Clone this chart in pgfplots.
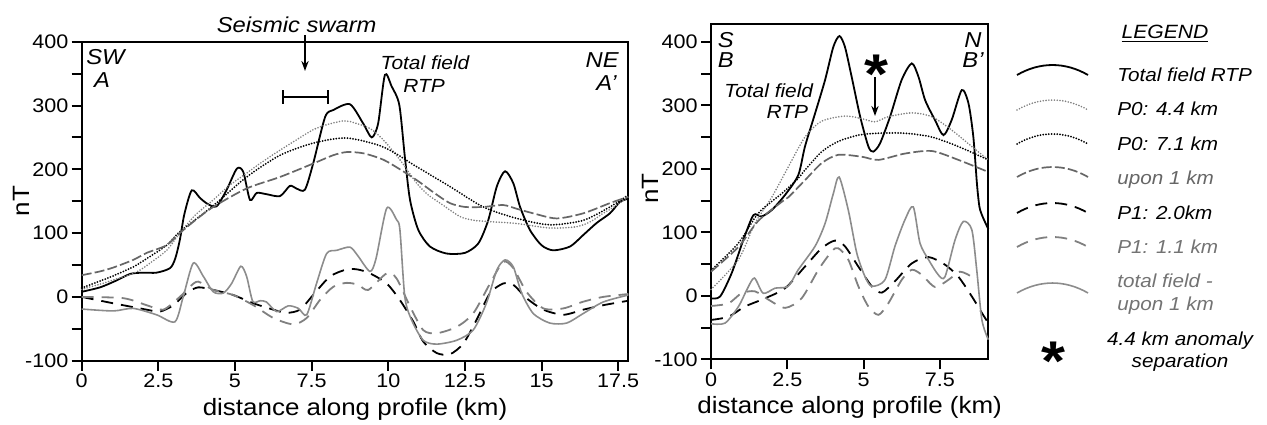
\documentclass[border=0pt]{standalone}
\usepackage{fontspec}
\setmainfont{Liberation Sans}[FakeStretch=1.1]
\usepackage{pgfplots}
\pgfplotsset{compat=1.18}
\usetikzlibrary{arrows.meta}

\tikzset{
  rtp/.style={black, line width=0.9pt},
  pA/.style={black!50, line width=0.9pt, line cap=round, dash pattern=on 0pt off 1.4pt},
  pB/.style={black, line width=1pt, line cap=round, dash pattern=on 0pt off 1.4pt},
  up/.style={black!60, line width=0.85pt, dash pattern=on 5pt off 1.6pt},
  pC/.style={black, line width=0.9pt, dash pattern=on 6pt off 4pt},
  pD/.style={black!50, line width=0.9pt, dash pattern=on 6pt off 4pt},
  res/.style={black!45, line width=0.8pt},
}
\pgfplotsset{
  myaxis/.style={
    scale only axis, clip=false,
    axis line style={line width=1pt},
    tick style={line width=1pt, black},
    tick align=outside, tick pos=left,
    major tick length=5pt, minor tick length=5pt,
    ytick={-100,0,100,200,300,400},
    minor ytick={-50,50,150,250,350},
    ymin=-100,
    /pgf/number format/assume math mode=true,
    tick label style={font=\fontsize{9.8}{11}\selectfont, inner sep=1.5pt},
    label style={font=\fontsize{11.8}{13}\selectfont},
    xlabel={distance along profile (km)},
    ylabel={nT},
    every axis plot/.append style={smooth, tension=0.45},
  }
}
\newcommand\samp[2]{\draw[#1] (1017,#2) .. controls (1040,#2-13.3) and (1065,#2-13.3) .. (1088,#2);}

\begin{document}
\begin{tikzpicture}
\useasboundingbox (0,0) rectangle (633.5pt,212pt);

% ---------------- Left panel: A - A'
\begin{axis}[myaxis, at={(40.85pt,31.65pt)}, anchor=south west,
  width=273.3pt, height=159.5pt,
  xmin=0, xmax=17.83, ymax=400,
  xtick={0,2.5,5,7.5,10,12.5,15,17.5},
  ylabel style={at={(axis description cs:-0.111,0.5)}, anchor=center}]
% Total field RTP
\addplot[rtp] coordinates {(0,8) (0.6,15) (1.1,25) (1.58,36) (2.0,38) (2.44,38) (2.88,45) (3.05,60) (3.2,89) (3.35,130) (3.59,167) (3.86,155) (4.1,146) (4.4,142) (4.73,168) (5.06,201) (5.27,196) (5.49,152) (5.71,163) (6.03,161) (6.47,158) (6.79,174) (7.0,170) (7.28,168) (7.55,209) (7.94,282) (8.21,293) (8.75,302) (9.18,272) (9.46,250) (9.67,272) (9.89,348) (10.11,330) (10.36,301) (10.54,220) (10.71,152) (10.98,105) (11.36,79) (11.9,68) (12.5,69) (12.94,84) (13.26,120) (13.54,173) (13.81,197) (14.08,178) (14.3,141) (14.62,105) (15.0,81) (15.38,73) (15.93,79) (16.36,97) (16.8,116) (17.23,131) (17.56,149) (17.83,154)};
% P0: 4.4 km
\addplot[pA] coordinates {(0,12) (0.6,20) (1.0,26) (1.58,35) (1.9,42) (2.23,53) (2.77,73) (3.2,100) (3.7,128) (4.29,152) (4.8,174) (5.38,194) (5.9,212) (6.47,230) (7.0,246) (7.55,262) (8.0,270) (8.53,276) (8.75,275) (9.4,264) (9.84,246) (10.38,215) (10.93,178) (11.3,160) (11.69,147) (12.34,126) (12.8,120) (13.32,118) (14.19,115) (15.27,108) (16.14,110) (16.6,118) (17.01,131) (17.4,142) (17.83,157)};
% P0: 7.1 km
\addplot[pB] coordinates {(0,14) (0.6,25) (1.03,33) (1.68,47) (2.12,60) (2.77,81) (3.2,102) (4.29,143) (5.38,188) (6.47,222) (7.55,241) (8.64,249) (9.84,235) (10.93,204) (12.01,173) (13.1,141) (14.19,123) (15.27,113) (16.36,120) (17.23,141) (17.83,160)};
% upon 1 km
\addplot[up] coordinates {(0,34) (0.6,40) (1.03,46) (1.68,58) (2.12,69) (2.77,81) (3.2,100) (3.7,120) (4.29,141) (5.38,170) (6.47,188) (7.55,209) (8.2,222) (8.64,227) (9.2,225) (9.84,215) (10.38,200) (10.93,183) (11.5,163) (12.01,147) (12.5,141) (13.1,141) (13.75,144) (14.2,138) (14.73,131) (15.49,123) (16.36,131) (17.23,147) (17.83,157)};
% P1: 2.0 km
\addplot[pC] coordinates {(0,0) (1.03,-10) (2.12,-20) (2.55,-23) (2.99,-13) (3.42,6) (3.8,15) (4.29,11) (4.94,3) (5.6,-10) (6.25,-20) (6.68,-25) (7.12,-20) (7.55,3) (8.1,32) (8.64,43) (9.0,43) (9.4,37) (9.95,21) (10.38,-5) (10.82,-39) (11.14,-70) (11.58,-88) (12.01,-90) (12.45,-73) (12.88,-36) (13.32,6) (13.75,21) (14.08,19) (14.51,-2) (15.06,-20) (15.71,-28) (16.36,-20) (17.01,-13) (17.83,-6)};
% P1: 1.1 km
\addplot[pD] coordinates {(0,0) (1.36,-2) (2.12,-13) (2.66,-20) (3.2,0) (3.53,16) (3.8,24) (4.29,11) (4.94,3) (5.6,-13) (6.25,-33) (6.9,-43) (7.34,-33) (7.77,-5) (8.21,16) (8.64,22) (9.02,19) (9.35,11) (9.95,37) (10.27,29) (10.71,-15) (11.14,-52) (11.58,-57) (12.23,-47) (12.77,-26) (13.32,21) (13.75,55) (14.08,45) (14.51,8) (15.06,-18) (15.71,-18) (16.36,-7.5) (17.01,0) (17.83,4.5)};
% total field - upon 1 km
\addplot[res] coordinates {(0,-19) (1.03,-22) (1.68,-18) (2.44,-28) (3.04,-39) (3.31,0) (3.64,53) (3.97,32) (4.29,8) (4.62,6) (4.89,21) (5.19,48) (5.38,32) (5.58,-7) (5.82,-6) (6.03,-8) (6.36,-23) (6.74,-14) (7.07,-18) (7.34,-28) (7.66,21) (7.99,68) (8.32,73) (8.75,78) (9.0,65) (9.4,40) (9.6,60) (9.95,139) (10.27,121) (10.38,105) (10.54,0) (10.76,-36) (11.14,-68) (11.58,-74) (12.23,-68) (12.77,-52) (13.2,-10) (13.54,42) (13.81,58) (14.08,47) (14.35,6) (14.73,-26) (15.27,-41) (15.82,-41) (16.36,-26) (17.01,-8) (17.83,3)};
\end{axis}

% ---------------- Right panel: B - B'
\begin{axis}[myaxis, at={(355.5pt,32.35pt)}, anchor=south west,
  width=138.65pt, height=167.65pt,
  xmin=0, xmax=9.09, ymax=428,
  xtick={0,2.5,5,7.5},
  ylabel style={at={(axis description cs:-0.22,0.51)}, anchor=center}]
\addplot[rtp] coordinates {(0,-4) (0.3,-1) (0.68,36) (1.06,88) (1.39,127) (1.66,125) (1.99,135) (2.43,159) (2.86,190) (3.08,235) (3.41,287) (3.74,340) (4.01,392) (4.21,409) (4.39,392) (4.61,345) (4.89,282) (5.16,235) (5.32,227) (5.54,240) (5.87,282) (6.25,340) (6.58,366) (6.8,345) (7.02,308) (7.34,277) (7.62,253) (7.89,277) (8.22,324) (8.44,303) (8.6,250) (8.72,175) (8.8,140) (8.9,125) (9.09,105)};
\addplot[pA] coordinates {(0,10) (0.9,57) (1.44,114) (1.99,155) (2.5,200) (3.08,250) (3.63,275) (4.39,283) (4.94,279) (5.38,274) (5.81,282) (6.58,288) (7.24,282) (7.89,261) (8.55,235) (9.09,214)};
\addplot[pB] coordinates {(0,40) (0.9,83) (1.55,130) (2.32,161) (2.86,185) (3.08,198) (3.63,227) (4.17,243) (4.83,253) (5.49,256) (6.36,256) (7.24,250) (8.11,235) (9.09,214)};
\addplot[up] coordinates {(0,38) (0.9,77) (1.55,118) (2.32,148) (2.53,155) (3.08,182) (3.63,209) (4.17,222) (4.94,219) (5.49,214) (6.36,224) (7.24,228) (8.11,214) (9.09,195)};
\addplot[pC] coordinates {(0,-38) (0.57,-33) (1.11,-17) (1.77,-4) (2.43,12) (3.08,46) (3.63,75) (4.07,87) (4.39,78) (4.83,46) (5.27,15) (5.6,5) (6.03,23) (6.58,51) (7.13,61) (7.67,49) (8.11,30) (8.55,-1) (8.88,-27) (9.09,-43)};
\addplot[pD] coordinates {(0,-16) (0.57,-12) (1.0,4) (1.44,7) (1.88,-6) (2.43,-19) (2.97,-4) (3.52,41) (3.96,70) (4.17,75) (4.5,57) (4.83,15) (5.16,-17) (5.49,-30) (5.81,-12) (6.25,25) (6.58,41) (6.91,33) (7.34,14) (7.78,25) (8.16,38) (8.55,30)};
\addplot[res] coordinates {(0,-44) (0.46,-43) (0.9,-17) (1.17,9) (1.42,28) (1.71,4) (2.1,12) (2.53,15) (2.86,41) (3.41,78) (3.74,114) (4.01,161) (4.2,187) (4.5,135) (4.78,67) (5.05,30) (5.27,15) (5.7,25) (6.03,78) (6.36,120) (6.63,140) (6.85,83) (7.13,57) (7.45,33) (7.67,30) (8.0,88) (8.27,117) (8.55,104) (8.71,41) (8.88,-38) (9.09,-69)};
\end{axis}

% ---------------- annotations and legend (pixel coordinates, y downward)
\begin{scope}[x=0.5pt, y=-0.5pt, yshift=212pt,
  every node/.style={inner sep=0pt, font=\fontsize{10.8}{12}\selectfont\itshape}]
  % left panel
  \node[anchor=base, font=\fontsize{10.8}{12}\selectfont\itshape] at (296.7,33) {Seismic swarm};
  \draw[-{Stealth[length=5pt,width=3.6pt]}, line width=0.9pt] (305,35) -- (305,71);
  \draw[line width=1.1pt] (283.3,96.7) -- (328.3,96.7);
  \draw[line width=1.1pt] (283.3,90) -- (283.3,103.5);
  \draw[line width=1.1pt] (328.3,90) -- (328.3,103.5);
  \node[anchor=base west] at (86,65) {SW};
  \node[anchor=base] at (102,88) {A};
  \node[anchor=base east] at (619,67) {NE};
  \node[anchor=base east] at (617,90) {A’};
  \node[anchor=base, font=\fontsize{9.5}{11}\selectfont\itshape] at (425,70) {Total field};
  \node[anchor=base, font=\fontsize{9.5}{11}\selectfont\itshape] at (424,93) {RTP};
  % right panel
  \node[anchor=base west] at (717.5,48) {S};
  \node[anchor=base west] at (717.5,67) {B};
  \node[anchor=base east] at (982,48) {N};
  \node[anchor=base east] at (984,67) {B’};
  \node[anchor=base east, font=\fontsize{9.5}{11}\selectfont\itshape] at (813.5,97) {Total field};
  \node[anchor=base east, font=\fontsize{9.5}{11}\selectfont\itshape] at (808.5,118) {RTP};
  \node[anchor=base, font=\fontsize{28}{28}\selectfont\bfseries] at (876,94) {*};
  \draw[-{Stealth[length=5pt,width=3.6pt]}, line width=0.9pt] (875,77) -- (875,116);
  % legend
  \begin{scope}[every node/.style={inner sep=0pt, font=\fontsize{9.4}{11}\selectfont\itshape, anchor=base west}]
    \node[anchor=base, font=\fontsize{9.6}{11}\selectfont\itshape] at (1165,38) {\underline{LEGEND}};
    \samp{rtp}{75}   \node at (1117,81) {Total field RTP};
    \samp{pA}{110}   \node at (1117,115) {P0: 4.4 km};
    \samp{pB}{144}   \node at (1117,150) {P0: 7.1 km};
    \samp{up}{177}   \node[text=black!60] at (1117,184) {upon 1 km};
    \samp{pC}{213}   \node at (1117,219) {P1: 2.0km};
    \samp{pD}{247}   \node[text=black!55] at (1117,253) {P1: 1.1 km};
    \samp{res}{293}  \node[text=black!55] at (1117,287) {total field -};
                     \node[text=black!55] at (1117,310) {upon 1 km};
    \node[anchor=base] at (1180,345) {4.4 km anomaly};
    \node[anchor=base] at (1180,367) {separation};
    \node[anchor=base, font=\fontsize{28}{28}\selectfont\bfseries] at (1053,380) {*};
  \end{scope}
\end{scope}
\end{tikzpicture}
\end{document}
